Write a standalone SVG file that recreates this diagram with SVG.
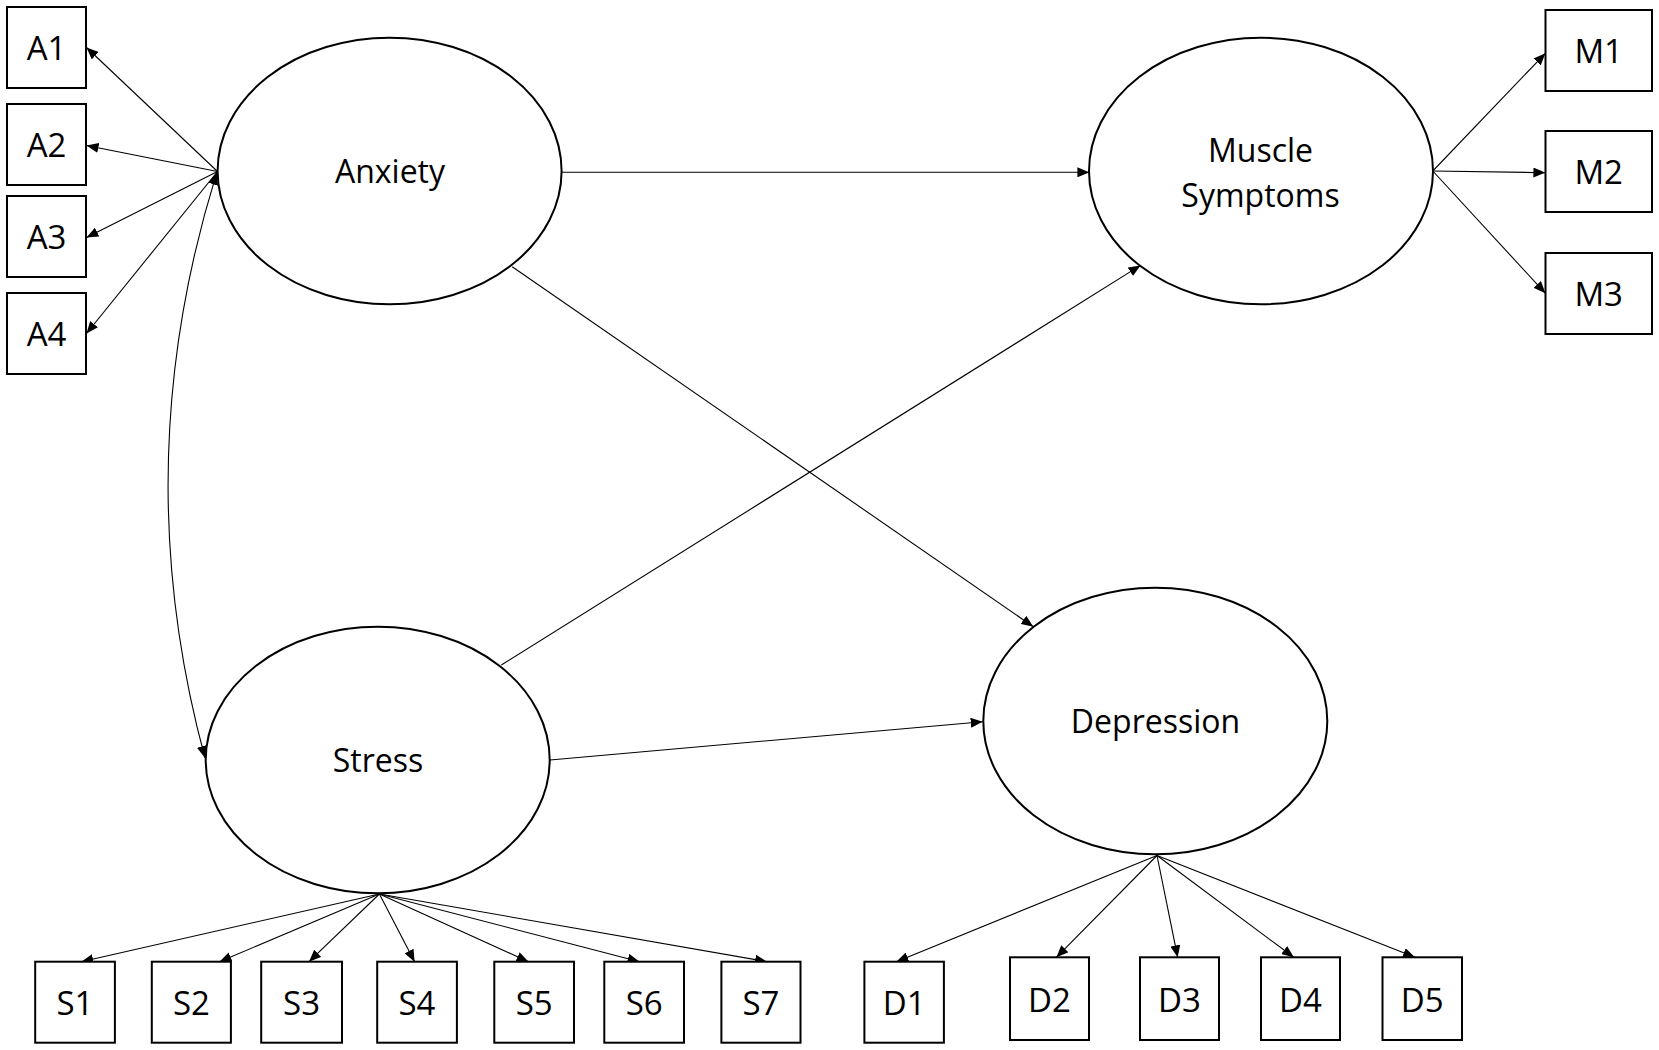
<svg xmlns="http://www.w3.org/2000/svg" width="1659" height="1050" viewBox="0 0 1659 1050">
<style>
.bg{fill:#fff}
.lat{fill:#fff;stroke:#000;stroke-width:2}
.box{fill:#fff;stroke:#000;stroke-width:2}
.c{fill:none;stroke:#000;stroke-width:1.1}
.t{font-family:"Open Sans","Liberation Sans",sans-serif;font-size:32px;fill:#000;text-anchor:middle}
.b{font-family:"Open Sans","Liberation Sans",sans-serif;font-size:33px;fill:#000;text-anchor:middle}
</style>
<defs>
<marker id="ah" markerUnits="userSpaceOnUse" markerWidth="12" markerHeight="10" refX="12" refY="5" orient="auto-start-reverse" viewBox="0 0 12 10">
<path d="M0,0 L12,5 L0,10 z" fill="#000"/>
</marker>
</defs>
<rect class="bg" x="0" y="0" width="1659" height="1050"/>
<g id="connectors">
<line class="c" x1="217.5" y1="171.5" x2="86.5" y2="47.5" marker-end="url(#ah)"/>
<line class="c" x1="217.5" y1="171.5" x2="86.5" y2="145.5" marker-end="url(#ah)"/>
<line class="c" x1="217.5" y1="171.5" x2="86.5" y2="237.5" marker-end="url(#ah)"/>
<line class="c" x1="217.5" y1="171.5" x2="86.5" y2="333.5" marker-end="url(#ah)"/>
<path class="c" d="M216.7,172.8 Q125.7,465 205,758" marker-start="url(#ah)" marker-end="url(#ah)"/>
<line class="c" x1="562" y1="172.3" x2="1089.4" y2="172.3" marker-end="url(#ah)"/>
<line class="c" x1="512.2" y1="266.7" x2="1033.3" y2="626.7" marker-end="url(#ah)"/>
<line class="c" x1="501.3" y1="665" x2="1140.5" y2="265.4" marker-end="url(#ah)"/>
<line class="c" x1="550" y1="760" x2="982.7" y2="721.7" marker-end="url(#ah)"/>
<line class="c" x1="1432.8" y1="171" x2="1545.4" y2="53.3" marker-end="url(#ah)"/>
<line class="c" x1="1432.8" y1="171" x2="1545.4" y2="172.7" marker-end="url(#ah)"/>
<line class="c" x1="1432.8" y1="171" x2="1545.4" y2="293.3" marker-end="url(#ah)"/>
<line class="c" x1="379.4" y1="894" x2="81.3" y2="961.7" marker-end="url(#ah)"/>
<line class="c" x1="379.4" y1="894" x2="219.5" y2="961.7" marker-end="url(#ah)"/>
<line class="c" x1="379.4" y1="894" x2="309" y2="961.7" marker-end="url(#ah)"/>
<line class="c" x1="379.4" y1="894" x2="414.6" y2="961.7" marker-end="url(#ah)"/>
<line class="c" x1="379.4" y1="894" x2="528.5" y2="961.7" marker-end="url(#ah)"/>
<line class="c" x1="379.4" y1="894" x2="639.6" y2="961.7" marker-end="url(#ah)"/>
<line class="c" x1="379.4" y1="894" x2="767" y2="961.7" marker-end="url(#ah)"/>
<line class="c" x1="1157" y1="855.5" x2="896.4" y2="961.7" marker-end="url(#ah)"/>
<line class="c" x1="1157" y1="855.5" x2="1056.4" y2="957.3" marker-end="url(#ah)"/>
<line class="c" x1="1157" y1="855.5" x2="1177.7" y2="957.3" marker-end="url(#ah)"/>
<line class="c" x1="1157" y1="855.5" x2="1293.8" y2="957.3" marker-end="url(#ah)"/>
<line class="c" x1="1157" y1="855.5" x2="1415" y2="957.3" marker-end="url(#ah)"/>
</g>
<g id="anxiety"><ellipse class="lat" cx="389.6" cy="171" rx="172" ry="133.3"/><text class="t" x="390" y="182.7">Anxiety</text></g>
<g id="muscle"><ellipse class="lat" cx="1261" cy="171" rx="172" ry="133.3"/><text class="t" x="1260.5" y="162.3">Muscle</text><text class="t" x="1260.5" y="206.7">Symptoms</text></g>
<g id="stress"><ellipse class="lat" cx="377.7" cy="760" rx="172" ry="133.3"/><text class="t" x="378" y="771.7">Stress</text></g>
<g id="depression"><ellipse class="lat" cx="1155.3" cy="721" rx="172" ry="133.3"/><text class="t" x="1155.5" y="733.3">Depression</text></g>
<g id="A1"><rect class="box" x="7" y="7" width="79" height="81"/><text class="b" x="46.5" y="60">A1</text></g>
<g id="A2"><rect class="box" x="7" y="104" width="79" height="81"/><text class="b" x="46.5" y="157">A2</text></g>
<g id="A3"><rect class="box" x="7" y="196" width="79" height="81"/><text class="b" x="46.5" y="249">A3</text></g>
<g id="A4"><rect class="box" x="7" y="293" width="79" height="81"/><text class="b" x="46.5" y="346">A4</text></g>
<g id="M1"><rect class="box" x="1545.5" y="10" width="106.5" height="81"/><text class="b" x="1598.7" y="63">M1</text></g>
<g id="M2"><rect class="box" x="1545.5" y="131" width="106.5" height="81"/><text class="b" x="1598.7" y="184">M2</text></g>
<g id="M3"><rect class="box" x="1545.5" y="253" width="106.5" height="81"/><text class="b" x="1598.7" y="306">M3</text></g>
<g id="S1"><rect class="box" x="35.2" y="961.7" width="79.7" height="81"/><text class="b" x="75" y="1015">S1</text></g>
<g id="S2"><rect class="box" x="151.8" y="961.7" width="79.1" height="81"/><text class="b" x="191.4" y="1015">S2</text></g>
<g id="S3"><rect class="box" x="261.2" y="961.7" width="80.8" height="81"/><text class="b" x="301.6" y="1015">S3</text></g>
<g id="S4"><rect class="box" x="377.2" y="961.7" width="79.7" height="81"/><text class="b" x="417" y="1015">S4</text></g>
<g id="S5"><rect class="box" x="494.3" y="961.7" width="79.7" height="81"/><text class="b" x="534.2" y="1015">S5</text></g>
<g id="S6"><rect class="box" x="604.3" y="961.7" width="79.7" height="81"/><text class="b" x="644.2" y="1015">S6</text></g>
<g id="S7"><rect class="box" x="721.4" y="961.7" width="79.1" height="81"/><text class="b" x="761" y="1015">S7</text></g>
<g id="D1"><rect class="box" x="864.4" y="961.7" width="79.5" height="81"/><text class="b" x="904.2" y="1015">D1</text></g>
<g id="D2"><rect class="box" x="1010" y="957.3" width="79" height="82.7"/><text class="b" x="1049.5" y="1011.5">D2</text></g>
<g id="D3"><rect class="box" x="1140" y="957.3" width="79" height="82.7"/><text class="b" x="1179.5" y="1011.5">D3</text></g>
<g id="D4"><rect class="box" x="1261" y="957.3" width="79" height="82.7"/><text class="b" x="1300.5" y="1011.5">D4</text></g>
<g id="D5"><rect class="box" x="1382.5" y="957.3" width="79.5" height="82.7"/><text class="b" x="1422.2" y="1011.5">D5</text></g>
</svg>
